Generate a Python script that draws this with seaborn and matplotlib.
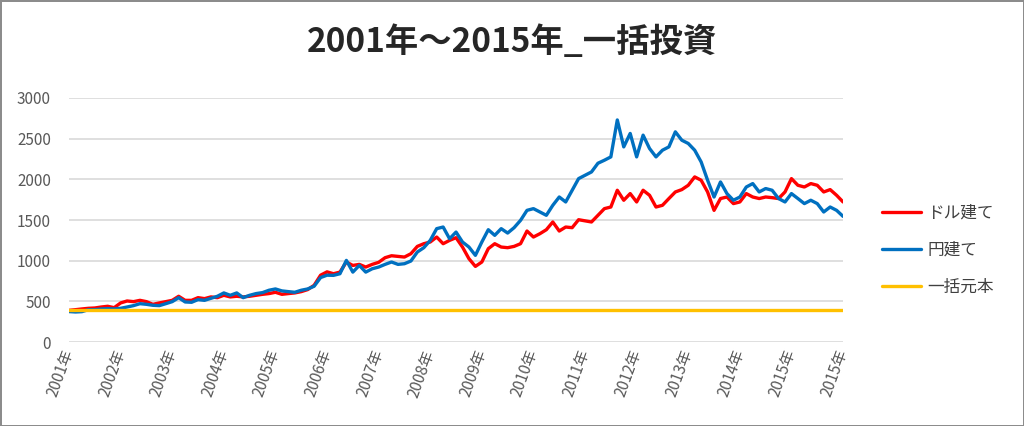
import numpy as np
import pandas as pd
import matplotlib
matplotlib.use('Agg')
import matplotlib.pyplot as plt
import seaborn as sns

# values, one point every 1/8 year from 2001 to 2015
dollar_based = [
    390, 398, 407, 415, 419, 431, 440, 423, 481, 505, 497, 513, 497, 464, 481, 497,
    513, 563, 513, 513, 546, 534, 555, 546, 575, 555, 563, 555, 563, 575, 587, 596,
    612, 587, 596, 604, 620, 645, 698, 822, 863,
    840, 860, 984, 942, 955, 922, 955, 980, 1037, 1061, 1053, 1045, 1086, 1176, 1209,
    1230, 1291, 1209, 1250, 1283, 1168, 1025, 930, 984, 1148, 1209, 1168, 1160, 1176,
    1209, 1365, 1291, 1332, 1381, 1476, 1365, 1414, 1406, 1504, 1490,
    1476, 1558, 1640, 1660, 1866, 1743, 1825, 1722, 1866, 1804, 1660, 1681, 1764, 1845,
    1874, 1927, 2030, 1989, 1845, 1619, 1764, 1783, 1702, 1722, 1825, 1783, 1764, 1783,
    1775, 1764, 1845, 2009, 1927, 1906, 1948, 1927, 1845, 1874, 1804, 1722,
]
yen_based = [
    375, 370, 374, 398, 398, 407, 411, 407, 415, 431, 448, 472, 464, 452, 448, 472,
    497, 546, 493, 489, 522, 513, 538, 563, 604, 575, 604, 546, 575, 596, 608, 637,
    653, 629, 620, 612, 637, 653, 686, 793, 822,
    820, 840, 1004, 860, 942, 860, 901, 922, 955, 984, 955, 963, 996, 1107, 1160,
    1250, 1394, 1414, 1270, 1352, 1230, 1168, 1066, 1230, 1381, 1312, 1394, 1340, 1406,
    1496, 1619, 1640, 1599, 1558, 1681, 1783, 1722, 1865, 2009, 2050,
    2091, 2198, 2235, 2276, 2730, 2399, 2564, 2276, 2543, 2379, 2276, 2358, 2399, 2584,
    2481, 2441, 2358, 2214, 1989, 1783, 1968, 1825, 1743, 1783, 1906, 1948, 1845, 1887,
    1866, 1764, 1722, 1825, 1764, 1702, 1743, 1702, 1599, 1660, 1619, 1545,
]
principal = 390
tick_labels = ['2001年', '2002年', '2003年', '2004年', '2005年', '2006年', '2007年', '2008年',
               '2009年', '2010年', '2011年', '2012年', '2013年', '2014年', '2015年', '2015年']
series_names = ['ドル建て', '円建て', '一括元本']

years = np.arange(len(dollar_based)) / 8.0
df = pd.DataFrame({
    'year': years,
    series_names[0]: dollar_based,
    series_names[1]: yen_based,
    series_names[2]: [principal] * len(years),
})

sns.set_theme(style='white')
plt.rcParams['font.family'] = ['Noto Sans CJK JP', 'DejaVu Sans']

fig = plt.figure(figsize=(10.24, 4.26), dpi=100)
ax = fig.add_axes([0.0674, 0.197, 0.7559, 0.573])

colors = ['#FF0000', '#0070C0', '#FFC000']
for name, c in zip(series_names, colors):
    sns.lineplot(data=df, x='year', y=name, ax=ax, color=c, linewidth=2.4, label=name)

ax.set_xlim(0, 15)
ax.set_ylim(0, 3000)
ax.set_yticks(range(0, 3001, 500))
ax.set_xticks(range(len(tick_labels)))
ax.set_xticklabels(tick_labels, rotation=70, ha='right', va='center', rotation_mode='anchor')
ax.set_xlabel('')
ax.set_ylabel('')
ax.tick_params(axis='y', length=0, pad=13, labelsize=11, labelcolor='#595959')
ax.tick_params(axis='x', length=0, pad=6, labelsize=11, labelcolor='#595959')
ax.yaxis.grid(True, color='#d9d9d9', linewidth=1.2)
ax.set_axisbelow(True)
for s in ax.spines.values():
    s.set_visible(False)

ax.get_legend().remove()
handles, labels = ax.get_legend_handles_labels()
fig.legend(handles, labels, loc='center left', bbox_to_anchor=(0.847, 0.413),
           frameon=False, fontsize=12, handlelength=2.3, handletextpad=0.4,
           labelspacing=1.2, labelcolor='#404040')

fig.suptitle('2001年～2015年_一括投資', x=0.5, y=0.94, fontsize=24, fontweight='bold')

fig.patch.set_edgecolor('#8c8c8c')
fig.patch.set_linewidth(2)
fig.savefig('out.png', dpi=100, edgecolor=fig.get_edgecolor())
